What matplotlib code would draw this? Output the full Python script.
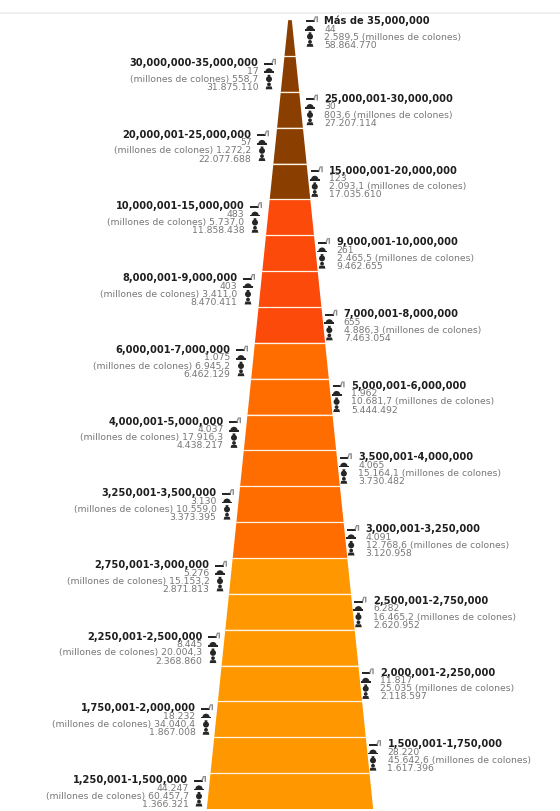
import matplotlib
matplotlib.use("Agg")
import matplotlib.pyplot as plt
from matplotlib.patches import Polygon, Circle, Rectangle, Wedge

brackets = ["Más de 35,000,000", "30,000,000-35,000,000", "25,000,001-30,000,000", "20,000,001-25,000,000",
            "15,000,001-20,000,000", "10,000,001-15,000,000", "9,000,001-10,000,000", "8,000,001-9,000,000",
            "7,000,001-8,000,000", "6,000,001-7,000,000", "5,000,001-6,000,000", "4,000,001-5,000,000",
            "3,500,001-4,000,000", "3,250,001-3,500,000", "3,000,001-3,250,000", "2,750,001-3,000,000",
            "2,500,001-2,750,000", "2,250,001-2,500,000", "2,000,001-2,250,000", "1,750,001-2,000,000",
            "1,500,001-1,750,000", "1,250,001-1,500,000"]
households = ["44", "17", "30", "57", "123", "483", "261", "403", "655", "1.075", "1.962", "4.037",
              "4.065", "3.130", "4.091", "5.276", "6.282", "8.445", "11.817", "18.232", "28.220", "44.247"]
totals = ["2.589,5", "558,7", "803,6", "1.272,2", "2.093,1", "5.737,0", "2.465,5", "3.411,0", "4.886,3",
          "6.945,2", "10.681,7", "17.916,3", "15.164,1", "10.559,0", "12.768,6", "15.153,2", "16.465,2",
          "20.004,3", "25.035", "34.040,4", "45.642,6", "60.457,7"]
averages = ["58.864.770", "31.875.110", "27.207.114", "22.077.688", "17.035.610", "11.858.438", "9.462.655",
            "8.470.411", "7.463.054", "6.462.129", "5.444.492", "4.438.217", "3.730.482", "3.373.395",
            "3.120.958", "2.871.813", "2.620.952", "2.368.860", "2.118.597", "1.867.008", "1.617.396", "1.366.321"]
group_sizes = [5, 4, 6, 7]
group_colors = ["#8A3F00", "#FC4A0B", "#FF6D00", "#FF9800"]
unit = "(millones de colones)"

plt.rcParams["font.family"] = "DejaVu Sans"
fig = plt.figure(figsize=(5.6, 8.12), dpi=100)
ax = fig.add_axes([0, 0, 1, 1])
ax.set_xlim(0, 560)
ax.set_ylim(812, 0)
ax.axis("off")

CX, TOP, Y0, ROW = 290.0, 14.0, 57.0, 35.86
W0, DW = 11.0, 7.4
colors = [c for c, n in zip(group_colors, group_sizes) for _ in range(n)]
ax.plot([0, 560], [TOP, TOP], color="#ECECEC", lw=1.2, zorder=1)


def width_at(y):
    return max(W0 + DW * (y - Y0) / ROW, 3.5)


ICON = "#262626"


def icon_key(x, y):
    ax.add_patch(Rectangle((x - 6, y + 0.6), 8.5, 2.0, color=ICON, lw=0))
    ax.add_patch(Polygon([(x + 1.5, y + 0.6), (x + 3, y - 3.2), (x + 6, y - 3.2), (x + 6, y + 2.6), (x + 4.6, y + 2.6),
                          (x + 4.6, y - 2), (x + 3.8, y - 2), (x + 2.6, y + 2.6)], color="#8C8C8C", lw=0))


def icon_home(x, y):
    ax.add_patch(Wedge((x, y + 1.8), 3.7, 180, 360, color=ICON, lw=0))
    ax.add_patch(Rectangle((x - 5, y + 1.2), 10, 1.7, color=ICON, lw=0))


def icon_bag(x, y):
    ax.add_patch(Circle((x, y + 0.9), 3.0, color=ICON, lw=0))
    ax.add_patch(Polygon([(x - 1.5, y - 3.4), (x + 1.5, y - 3.4), (x + 1, y - 1), (x - 1, y - 1)], color=ICON, lw=0))


def icon_person(x, y):
    ax.add_patch(Circle((x, y - 1.9), 1.9, color=ICON, lw=0))
    ax.add_patch(Polygon([(x - 3.4, y + 3), (x - 2.6, y + 0.1), (x + 2.6, y + 0.1), (x + 3.4, y + 3)], color=ICON, lw=0))


BOLD, REG = 7.1, 6.7
LINE = 8.1
for i, name in enumerate(brackets):
    y1 = Y0 + ROW * i
    y0 = max(y1 - ROW, TOP)
    ax.add_patch(Polygon([(CX - width_at(y0) / 2, y0), (CX + width_at(y0) / 2, y0),
                          (CX + width_at(y1) / 2, y1), (CX - width_at(y1) / 2, y1)],
                         facecolor=colors[i], edgecolor="none", zorder=2))
    if i:
        ax.plot([CX - width_at(y0) / 2 - 1, CX + width_at(y0) / 2 + 1], [y0, y0], color="#FFF3E6", lw=0.9, zorder=3)

    ly = y1 - ROW + 6.0 if i else 20.5
    if i % 2 == 0:
        tx = max(324.5, 314.7 + 3.64 * i)
        ha = "left"
        lines = [name, households[i], f"{totals[i]} {unit}", averages[i]]
        ix = tx - 14.5
        kx = ix + 2
    else:
        tx = 262 - 3.5 * i
        ha = "right"
        lines = [name, households[i], f"{unit} {totals[i]}", averages[i]]
        ix = tx + 10.5
        kx = ix + 1
    for j, s in enumerate(lines):
        offset = 1.2 if (i == 0 and j) else 0
        ax.text(tx, ly + j * LINE + offset, s, va="center", ha=ha, color="#1E1E1E" if j == 0 else "#777777",
                fontweight="bold" if j == 0 else "normal", fontsize=BOLD if j == 0 else REG)
    icon_key(kx, ly)
    icon_home(ix, ly + LINE)
    icon_bag(ix, ly + 2 * LINE)
    icon_person(ix, ly + 3 * LINE)

fig.savefig("out.png", dpi=100, facecolor="white")
